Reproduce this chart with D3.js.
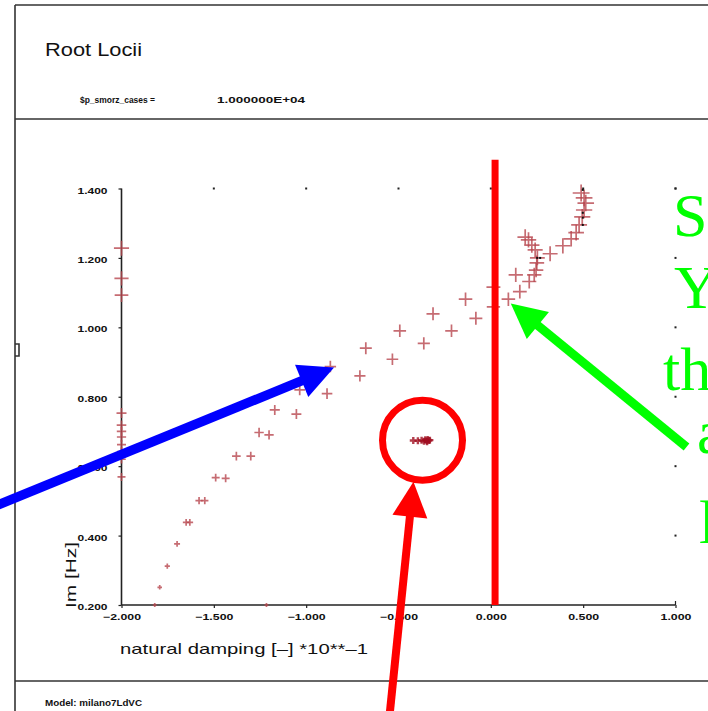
<!DOCTYPE html>
<html>
<head>
<meta charset="utf-8">
<script src="https://cdn.jsdelivr.net/npm/d3@7"></script>
<style>
  html, body { margin: 0; padding: 0; background: #fff; }
  svg { display: block; }
</style>
</head>
<body>
<svg id="chart" width="708" height="711"></svg>
<script>
// ---- axis ticks -------------------------------------------------------
const xTicks = [-2, -1.5, -1, -0.5, 0, 0.5, 1];
const xTickLabels = ["\u22122.000", "\u22121.500", "\u22121.000", "\u22120.500", "0.000", "0.500", "1.000"];
const yTicks = [0.2, 0.4, 0.6, 0.8, 1.0, 1.2, 1.4];
const yTickLabels = ["0.200", "0.400", "0.600", "0.800", "1.000", "1.200", "1.400"];

// ---- root locus: damping (x10^-1) and frequency (Hz) ------------------
const locusDamping = [
  -2.000, -2.000, -2.000,
  -2.000, -2.000, -2.000, -2.000, -2.000, -2.000, -2.000, -2.000,
  -1.820, -1.215,
  -1.793, -1.752, -1.699, -1.650, -1.630,
  -1.580, -1.549, -1.490, -1.436, -1.378, -1.300,
  -1.255, -1.201, -1.170, -1.053, -1.035, -0.887,
  -0.869, -0.709, -0.677, -0.533, -0.493, -0.363,
  -0.313, -0.213, -0.137, -0.081, 0.014, 0.014,
  0.135, 0.095, 0.157, 0.208, 0.235,
  0.245, 0.249, 0.252, 0.240, 0.222, 0.204, 0.186,
  0.321, 0.390, 0.435, 0.462, 0.478, 0.495, 0.505, 0.514, 0.505, 0.489
];
const locusFreq = [
  1.228, 1.141, 1.093,
  0.753, 0.718, 0.700, 0.684, 0.662, 0.642, 0.620, 0.569,
  0.200, 0.200,
  0.251, 0.312, 0.376, 0.438, 0.438,
  0.501, 0.501, 0.567, 0.565, 0.629, 0.629,
  0.697, 0.690, 0.762, 0.750, 0.820, 0.809,
  0.887, 0.860, 0.940, 0.908, 0.990, 0.954,
  1.039, 0.990, 1.081, 1.026, 1.116, 1.059,
  1.151, 1.081, 1.103, 1.132, 1.151,
  1.165, 1.186, 1.200, 1.223, 1.237, 1.252, 1.260,
  1.212, 1.235, 1.255, 1.273, 1.295, 1.318, 1.338, 1.358, 1.373, 1.387
];

// stationary pole cluster
const clusterDamping = [-0.420, -0.395, -0.375, -0.362, -0.355, -0.348, -0.342, -0.336, -0.330, -0.345];
const clusterFreq    = [0.674, 0.673, 0.675, 0.672, 0.676, 0.673, 0.677, 0.674, 0.675, 0.670];

// secondary dot markers
const dotDamping = [0.498, 0.498, 0.498, 0.498, 0.251, 0.267];
const dotFreq    = [1.396, 1.330, 1.316, 1.295, 1.200, 1.200];

// ---- scales -----------------------------------------------------------
const svg = d3.select("#chart");
const x = d3.scaleLinear().domain([-2, 1]).range([121.5, 675.5]);
const y = d3.scaleLinear().domain([0.2, 1.4]).range([605, 188.5]);
const markSize = d3.scaleLinear().domain([0.2, 1.4]).range([4, 17]);

svg.append("rect").attr("width", 708).attr("height", 711).attr("fill", "#fff");

const defs = svg.append("defs");
defs.append("filter").attr("id", "soft")
  .append("feGaussianBlur").attr("stdDeviation", 0.5);

// ---- page frame -------------------------------------------------------
const frame = svg.append("g").attr("stroke", "#333").attr("stroke-width", 1.6).attr("fill", "none");
frame.append("line").attr("x1", 15).attr("y1", 5).attr("x2", 708).attr("y2", 5);
frame.append("line").attr("x1", 15).attr("y1", 5).attr("x2", 15).attr("y2", 711);
frame.append("line").attr("x1", 15).attr("y1", 119).attr("x2", 708).attr("y2", 119);
frame.append("line").attr("x1", 15).attr("y1", 681).attr("x2", 708).attr("y2", 681);
frame.append("path").attr("d", "M15,344H19V356H15");

const txt = svg.append("g").attr("font-family", "'Liberation Sans', Arial, sans-serif").attr("fill", "#111");
txt.append("text").attr("x", 45).attr("y", 56).attr("font-size", 18)
  .attr("textLength", 97).attr("lengthAdjust", "spacingAndGlyphs").text("Root Locii");
txt.append("text").attr("x", 80).attr("y", 103).attr("font-size", 9.5).attr("font-weight", "bold")
  .attr("textLength", 75).attr("lengthAdjust", "spacingAndGlyphs").text("$p_smorz_cases =");
txt.append("text").attr("x", 217).attr("y", 103).attr("font-size", 9.5).attr("font-weight", "bold")
  .attr("textLength", 88).attr("lengthAdjust", "spacingAndGlyphs").text("1.000000E+04");
txt.append("text").attr("x", 45).attr("y", 706).attr("font-size", 9.5).attr("font-weight", "bold")
  .attr("textLength", 97).attr("lengthAdjust", "spacingAndGlyphs").text("Model: milano7LdVC");

// ---- axes -------------------------------------------------------------
const axisColor = "#222";
const gx = svg.append("g").attr("transform", `translate(0,${y(0.2)})`)
  .call(d3.axisBottom(x).tickValues(xTicks).tickSize(3).tickPadding(6)
    .tickFormat((d, i) => xTickLabels[i]));
gx.select(".domain").remove();
gx.selectAll("line").attr("stroke", axisColor).attr("stroke-width", 1.2);
gx.selectAll("text").attr("font-family", "'Liberation Sans', Arial, sans-serif")
  .attr("font-size", 9).attr("font-weight", "bold").attr("fill", "#111")
  .attr("textLength", (d, i) => d < 0 ? 38 : 31).attr("lengthAdjust", "spacingAndGlyphs");

const gy = svg.append("g").attr("transform", `translate(${x(-2)},0)`)
  .call(d3.axisLeft(y).tickValues(yTicks).tickSize(3).tickPadding(11)
    .tickFormat((d, i) => yTickLabels[i]));
gy.select(".domain").remove();
gy.selectAll("line").attr("stroke", axisColor).attr("stroke-width", 1.2);
gy.selectAll("text").attr("font-family", "'Liberation Sans', Arial, sans-serif")
  .attr("font-size", 9).attr("font-weight", "bold").attr("fill", "#111").attr("dy", "0.5em")
  .attr("textLength", 30).attr("lengthAdjust", "spacingAndGlyphs");

svg.append("line").attr("x1", x(-2)).attr("x2", x(1)).attr("y1", y(0.2)).attr("y2", y(0.2))
  .attr("stroke", axisColor).attr("stroke-width", 1.6);
svg.append("line").attr("x1", x(-2)).attr("x2", x(-2)).attr("y1", y(0.2)).attr("y2", y(1.4))
  .attr("stroke", axisColor).attr("stroke-width", 1.6);
svg.append("line").attr("x1", x(1)).attr("x2", x(1)).attr("y1", y(0.2)).attr("y2", y(0.2) - 4)
  .attr("stroke", axisColor).attr("stroke-width", 1.2);

// small dot ticks along top and right edges of the plot box
svg.append("g").selectAll("rect").data(xTicks.slice(1)).join("rect")
  .attr("x", d => x(d) - 1).attr("y", y(1.4) - 1).attr("width", 2).attr("height", 2).attr("fill", "#222");
svg.append("g").selectAll("rect").data(yTicks.slice(1)).join("rect")
  .attr("x", x(1) - 1).attr("y", d => y(d) - 1).attr("width", 2).attr("height", 2).attr("fill", "#222");

txt.append("text").attr("x", 120).attr("y", 654).attr("font-size", 15)
  .attr("textLength", 248).attr("lengthAdjust", "spacingAndGlyphs")
  .text("natural damping [\u2013] *10**\u20131");
txt.append("text").attr("transform", "translate(76,575) rotate(-90)").attr("text-anchor", "middle")
  .attr("font-size", 15).attr("textLength", 66).attr("lengthAdjust", "spacingAndGlyphs")
  .text("Im [Hz]");

// ---- root locus crosses -----------------------------------------------
const plus = (s) => `M${-s},0H${s}M0,${-s}V${s}`;
const crossStyle = sel => sel.attr("fill", "none").attr("stroke", "#b8474f")
  .attr("stroke-width", 1.7).attr("stroke-opacity", 0.8);

const locus = d3.range(locusDamping.length).map(i => ({ d: locusDamping[i], f: locusFreq[i] }));
const cluster = d3.range(clusterDamping.length).map(i => ({ d: clusterDamping[i], f: clusterFreq[i] }));

const marks = svg.append("g").attr("filter", "url(#soft)");
marks.selectAll("path.locus").data(locus).join("path").attr("class", "locus")
  .attr("transform", p => `translate(${x(p.d)},${y(p.f)})`)
  .attr("d", p => plus(markSize(p.f) / 2)).call(crossStyle);
marks.selectAll("path.cluster").data(cluster).join("path").attr("class", "cluster")
  .attr("transform", p => `translate(${x(p.d)},${y(p.f)})`)
  .attr("d", () => plus(3.5)).call(crossStyle).attr("stroke", "#a01020").attr("stroke-width", 2.4);

const dots = d3.range(dotDamping.length).map(i => ({ d: dotDamping[i], f: dotFreq[i] }));
svg.append("g").selectAll("rect").data(dots).join("rect")
  .attr("x", p => x(p.d) - 1).attr("y", p => y(p.f) - 1).attr("width", 2).attr("height", 2)
  .attr("fill", "#111");

// ---- annotations ------------------------------------------------------
const ann = svg.append("g");
function arrow(tip, tail, color, shaftW) {
  const dx = tip[0] - tail[0], dy = tip[1] - tail[1], L = Math.hypot(dx, dy);
  const ux = dx / L, uy = dy / L, nx = -uy, ny = ux;
  const headL = 35, headW = 17.5;
  const bx = tip[0] - ux * headL, by = tip[1] - uy * headL;
  ann.append("line").attr("x1", tail[0]).attr("y1", tail[1])
    .attr("x2", bx + ux * 3).attr("y2", by + uy * 3)
    .attr("stroke", color).attr("stroke-width", shaftW);
  ann.append("path")
    .attr("d", `M${tip[0]},${tip[1]}L${bx + nx * headW},${by + ny * headW}L${bx - nx * headW},${by - ny * headW}Z`)
    .attr("fill", color);
}

// stability boundary
ann.append("line").attr("x1", x(0.023)).attr("x2", x(0.023))
  .attr("y1", y(1.483)).attr("y2", y(0.2))
  .attr("stroke", "#ff0000").attr("stroke-width", 7);

// ring around the stationary pole
ann.append("circle").attr("cx", x(-0.370)).attr("cy", y(0.675)).attr("r", 40)
  .attr("fill", "none").attr("stroke", "#ff0000").attr("stroke-width", 7);

arrow([x(-0.419), y(0.555)], [389.5, 716], "#ff0000", 8);
arrow([x(-0.849), y(0.884)], [-6, 506.5], "#0000ff", 9.5);
arrow([x(0.108), y(1.069)], [686.5, 447], "#00ff00", 9);

const note = svg.append("g").attr("font-family", "'Liberation Serif', 'Times New Roman', serif")
  .attr("font-size", 62).attr("fill", "#00ff00");
const noteLines = [["S", 673, 236], ["Y", 674, 308], ["th", 663, 390], ["a", 697, 453], ["l", 699, 543]];
note.selectAll("text").data(noteLines).join("text")
  .attr("x", d => d[1]).attr("y", d => d[2]).text(d => d[0]);
</script>
</body>
</html>
